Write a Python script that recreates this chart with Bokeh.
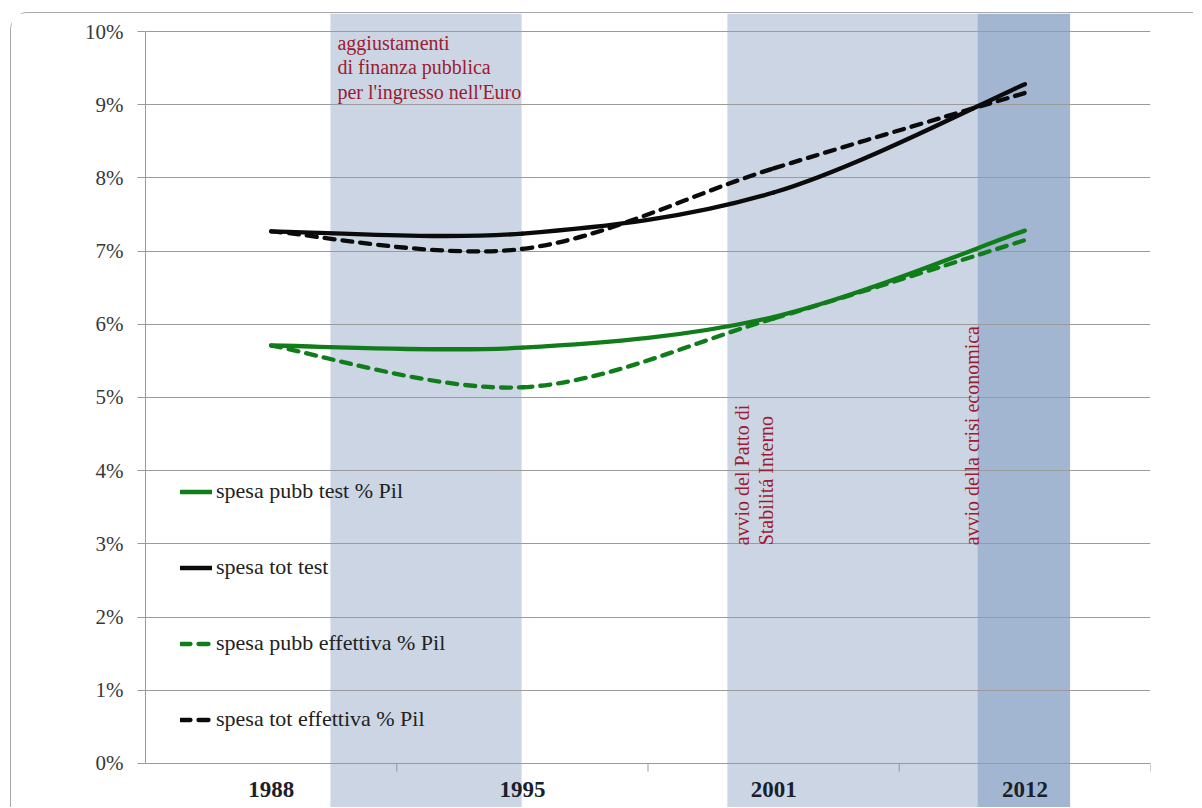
import numpy as np
from bokeh.plotting import figure
from bokeh.models import ColumnDataSource, FixedTicker, Legend, LegendItem
from bokeh.core.properties import value
from bokeh.embed import file_html
from bokeh.resources import INLINE

# ---- data ----
years = ["1988", "1995", "2001", "2012"]
spesa_pubb_test = [5.71, 5.68, 6.10, 7.28]
spesa_tot_test = [7.27, 7.24, 7.80, 9.28]
spesa_pubb_eff = [5.71, 5.14, 6.08, 7.15]
spesa_tot_eff = [7.27, 7.03, 8.13, 9.16]
y_ticks = list(range(0, 11))
y_labels = [f"{v}%" for v in y_ticks]
# shaded periods (in category-axis units)
band_left = [0.736, 2.316, 3.311]
band_right = [1.497, 3.311, 3.680]
band_color = ["#cbd5e3", "#cbd5e3", "#a2b6d2"]

SERIF = "Liberation Serif"
RED = "#9b1b32"

Y_TOP = 10.246
Y_BOT = -0.615

p = figure(width=1183, height=795, output_backend="svg", toolbar_location=None,
           x_range=(0, 4), y_range=(Y_BOT, Y_TOP), x_axis_location=None,
           min_border_left=134, min_border_right=44, min_border_top=0, min_border_bottom=0)
p.styles = {"border-left": "1px solid #a8a8a8", "border-top": "1px solid #a8a8a8",
            "border-top-left-radius": "18px", "margin-left": "10px", "margin-top": "12px",
            "margin-bottom": "-40px"}
p.outline_line_color = None
p.background_fill_color = "white"
p.border_fill_color = "white"

# bands
n_b = len(band_left)
p.quad(left=band_left, right=band_right, top=[Y_TOP] * n_b, bottom=[Y_BOT] * n_b,
       fill_color=band_color, line_color=None, level="image")

# grid (0 line doubles as the x axis line)
p.xgrid.visible = False
p.ygrid.ticker = FixedTicker(ticks=y_ticks)
p.ygrid.grid_line_color = "#9a9a9a"
p.ygrid.grid_line_width = 1

# y axis
ya = p.yaxis[0]
ya.ticker = FixedTicker(ticks=y_ticks)
ya.major_label_overrides = {v: s for v, s in zip(y_ticks, y_labels)}
ya.bounds = (0, 10)
ya.axis_line_color = "#9a9a9a"
ya.major_tick_line_color = "#9a9a9a"
ya.major_tick_out = 8
ya.major_tick_in = 0
ya.minor_tick_line_color = None
ya.major_label_standoff = 14
ya.major_label_text_font = SERIF
ya.major_label_text_font_size = "21px"
ya.major_label_text_color = "#383838"

# x axis ticks (category boundaries) and labels (category centres)
xc = [i + 0.5 for i in range(len(years))]
xb = [1, 2, 3, 4]
p.segment(x0=xb, y0=[0] * len(xb), x1=xb, y1=[-0.11] * len(xb),
          line_color="#9a9a9a", line_width=1)
p.text(x=xc, y=[-0.35] * len(xc), text=years, text_font=value(SERIF),
       text_font_style="bold", text_font_size="23px", text_color="#1a1f2b",
       text_align="center", text_baseline="middle")


def bezier_source(xs, ys):
    xs = np.asarray(xs, float)
    ys = np.asarray(ys, float)
    n = len(xs)
    xp = np.concatenate([[xs[0]], xs, [xs[-1]]])
    yp = np.concatenate([[ys[0]], ys, [ys[-1]]])
    d = dict(x0=[], y0=[], x1=[], y1=[], cx0=[], cy0=[], cx1=[], cy1=[])
    for i in range(n - 1):
        j = i + 1
        d["x0"].append(xp[j]); d["y0"].append(yp[j])
        d["x1"].append(xp[j + 1]); d["y1"].append(yp[j + 1])
        d["cx0"].append(xp[j] + (xp[j + 1] - xp[j - 1]) / 6)
        d["cy0"].append(yp[j] + (yp[j + 1] - yp[j - 1]) / 6)
        d["cx1"].append(xp[j + 1] - (xp[j + 2] - xp[j]) / 6)
        d["cy1"].append(yp[j + 1] - (yp[j + 2] - yp[j]) / 6)
    return ColumnDataSource(d)


GREEN = "#107d1a"
BLACK = "#0b0b0b"
series = [
    ("spesa pubb test % Pil", spesa_pubb_test, GREEN, "solid"),
    ("spesa tot test", spesa_tot_test, BLACK, "solid"),
    ("spesa pubb effettiva % Pil", spesa_pubb_eff, GREEN, "10 8"),
    ("spesa tot effettiva % Pil", spesa_tot_eff, BLACK, "10 8"),
]
items = []
for name, vals, col, dash in series:
    src = bezier_source(xc, vals)
    r = p.bezier(x0="x0", y0="y0", x1="x1", y1="y1", cx0="cx0", cy0="cy0",
                 cx1="cx1", cy1="cy1", source=src, line_color=col, line_width=4.3,
                 line_dash=dash, line_cap="round")
    items.append(LegendItem(label=name, renderers=[r]))

legend = Legend(items=items, location=(35, 76), orientation="vertical",
                padding=0, margin=0, spacing=50, glyph_width=32, glyph_height=21,
                label_height=21, label_standoff=4,
                label_text_font=SERIF, label_text_font_size="22px",
                label_text_color="#222222",
                background_fill_alpha=0, border_line_color=None)
p.add_layout(legend, "center")

# annotations
p.text(x=[0.764], y=[9.99], text=["aggiustamenti\ndi finanza pubblica\nper l'ingresso nell'Euro"],
       text_font=value(SERIF), text_font_size="20px", text_color=RED,
       text_align="left", text_baseline="top", text_line_height=1.1)
p.text(x=[2.376, 2.468, 3.291], y=[2.98, 2.98, 2.98],
       text=["avvio del Patto di", "Stabilitá  Interno", "avvio della crisi economica"],
       angle=np.pi / 2, text_font=value(SERIF), text_font_size="20px", text_color=RED,
       text_align="left", text_baseline="middle")

open("out.html", "w").write(file_html(p, INLINE))
